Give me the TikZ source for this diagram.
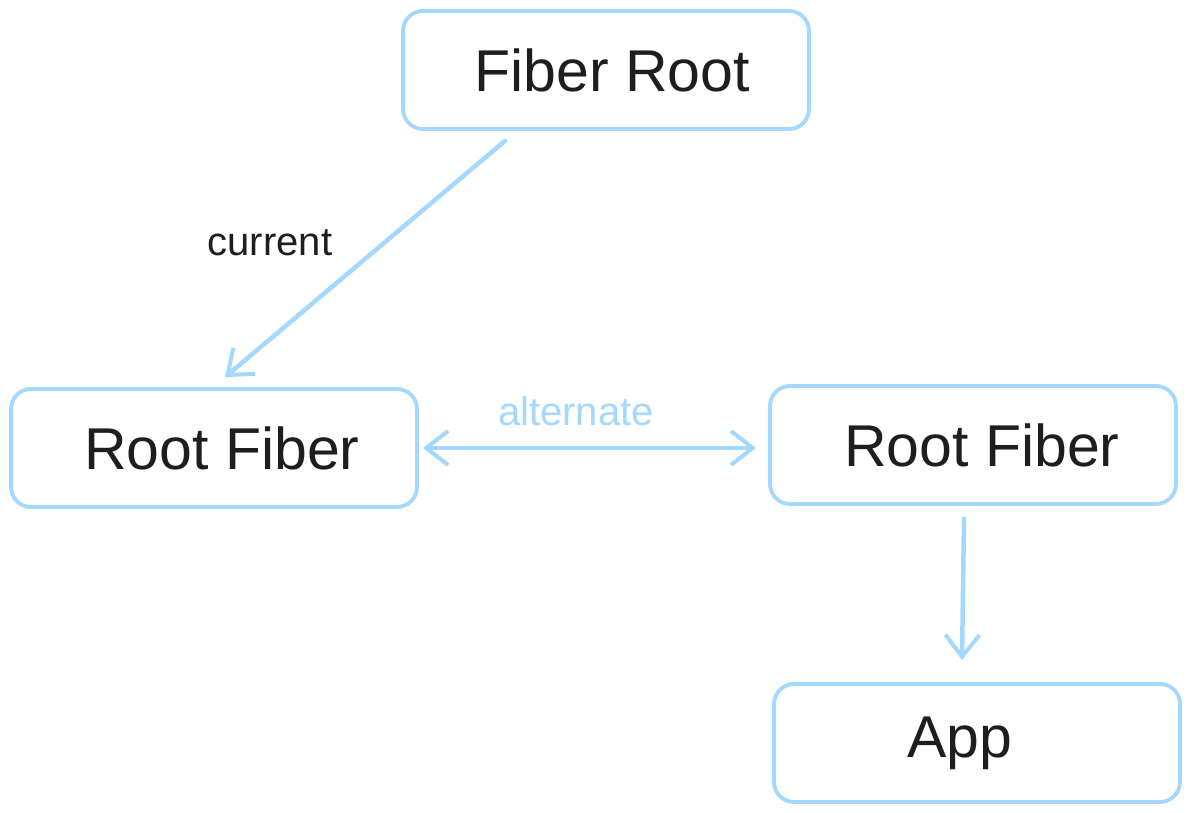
\documentclass[tikz,border=0pt]{standalone}
\usepackage{fontspec}
\setmainfont{Liberation Sans}
\usetikzlibrary{arrows.meta}
\definecolor{sk}{HTML}{A5D8FF}
\definecolor{ink}{HTML}{1E1E1E}
\tikzset{
  box/.style={draw=sk, line width=3.8pt, rounded corners=20pt, minimum width=406pt, minimum height=118pt, text=ink, font=\fontsize{59}{64}\selectfont},
  barb/.style={Straight Barb[length=22pt,width=34pt,line width=4pt]},
  conn/.style={draw=sk, line width=4.5pt, line cap=round, -{Straight Barb[length=22pt,width=34pt,line width=4pt]}},
  dconn/.style={conn, {Straight Barb[length=22pt,width=34pt,line width=4pt]}-{Straight Barb[length=22pt,width=34pt,line width=4pt]}},
  lbl/.style={font=\fontsize{40}{46}\selectfont}
}
\begin{document}
\begin{tikzpicture}[x=1pt,y=-1pt]
\useasboundingbox[fill=white] (0,0) rectangle (1191,813);
\node[box] (fr) at (606,70) {\hspace*{12pt}Fiber Root};
\node[box] (rf1) at (214,448) {\hspace*{16pt}Root Fiber};
\node[box] (rf2) at (973,445) {\hspace*{18pt}Root Fiber};
\node[box] (app) at (977,743) {App\hspace*{34pt}};
\node[lbl, text=ink] (lc) at (270,243) {current};
\node[lbl, text=sk] (la) at (576,411) {alternate};
\draw[conn] ([xshift=-101pt,yshift=-10pt]fr.south) -- ([xshift=11pt,yshift=10pt]rf1.north);
\draw[dconn] ([xshift=4pt]rf1.east) -- ([xshift=-12pt,yshift=-3pt]rf2.west);
\draw[conn] ([xshift=-9pt,yshift=-13pt]rf2.south) -- ([xshift=-15pt,yshift=22pt]app.north);
\end{tikzpicture}
\end{document}
